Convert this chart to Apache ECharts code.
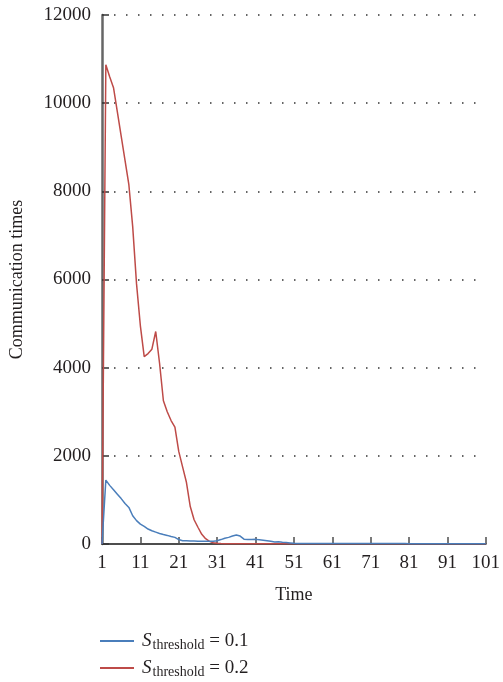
<!DOCTYPE html>
<html>
<head>
<meta charset="utf-8">
<script src="https://cdn.jsdelivr.net/npm/echarts@6/dist/echarts.min.js"></script>
<style>
  html, body { margin: 0; padding: 0; background: #fff; }
  #chart { width: 503px; height: 682px; }
</style>
</head>
<body>
<div id="chart"></div>
<script>
// Time steps 1..101 shown on the horizontal axis
const timeSteps = Array.from({ length: 101 }, (_, i) => String(i + 1));

// Communication times for S_threshold = 0.1
const commLow = [
  0, 1450, 1330, 1230, 1130, 1030, 920, 830, 640, 530,
  450, 400, 340, 300, 270, 240, 215, 195, 170, 150,
  100, 75, 75, 70, 70, 65, 65, 60, 60, 65,
  75, 100, 130, 150, 180, 205, 180, 110, 100, 100,
  105, 95, 85, 75, 60, 45, 50, 40, 35, 25,
  15, 12, 10, 10, 10, 10, 10, 10, 10, 10,
  10, 10, 10, 10, 10, 10, 10, 10, 10, 10,
  10, 10, 10, 10, 10, 10, 10, 10, 10, 10,
  5, 5, 5, 5, 5, 5, 5, 5, 5, 5,
  5, 5, 5, 5, 5, 5, 5, 5, 5, 5,
  5
];

// Communication times for S_threshold = 0.2
const commHigh = [
  0, 10870, 10600, 10350, 9800, 9250, 8700, 8150, 7200, 5900,
  4950, 4250, 4320, 4420, 4820, 4100, 3250, 3000, 2800, 2650,
  2100, 1750, 1400, 850, 550, 380, 220, 120, 60, 30,
  15, 10, 8, 5, 5, 5, 5, 5, 5, 5,
  5, 5, 5, 5, 5, 5, 5, 5, 5, 5,
  5, 5, 5, 5, 5, 5, 5, 5, 5, 5,
  5, 5, 5, 5, 5, 5, 5, 5, 5, 5,
  5, 5, 5, 5, 5, 5, 5, 5, 5, 5,
  5, 5, 5, 5, 5, 5, 5, 5, 5, 5,
  5, 5, 5, 5, 5, 5, 5, 5, 5, 5,
  5
];

const thresholds = ['0.1', '0.2'];
const seriesNames = thresholds.map(t => 'S threshold = ' + t);
const lineColors = ['#4a7ebb', '#be4b48'];

const serif = '"Liberation Serif", "DejaVu Serif", serif';
const textColor = '#231f20';

// one legend block per entry so the entries stack vertically
const legendRich = {
  s: { fontFamily: serif, fontStyle: 'italic', fontSize: 19, color: textColor, lineHeight: 22, verticalAlign: 'middle', padding: [0, 0, 0, 3] },
  sub: { fontFamily: serif, fontSize: 14, color: textColor, lineHeight: 22, verticalAlign: 'bottom', padding: [10, 0, 0, 1] },
  n: { fontFamily: serif, fontSize: 19, color: textColor, lineHeight: 22, verticalAlign: 'middle' }
};
const legends = seriesNames.map((name, i) => ({
  left: 95,
  top: 623 + i * 27,
  itemWidth: 34,
  itemHeight: 2,
  itemGap: 8,
  icon: 'rect',
  data: [name],
  formatter: function (n) {
    return '{s|S}{sub|threshold}{n| = ' + n.split('= ')[1] + '}';
  },
  textStyle: { fontFamily: serif, color: textColor, rich: legendRich }
}));

const chart = echarts.init(document.getElementById('chart'));
chart.setOption({
  animation: false,
  backgroundColor: '#fff',
  grid: { left: 100, right: 12, top: 15, bottom: 138, containLabel: false },
  xAxis: {
    type: 'category',
    data: timeSteps,
    boundaryGap: false,
    name: 'Time',
    nameLocation: 'middle',
    nameGap: 42,
    nameTextStyle: { fontFamily: serif, fontSize: 18, color: textColor },
    axisLine: { lineStyle: { color: '#4d4d4d', width: 2 } },
    axisTick: { inside: true, length: 7, interval: 9, lineStyle: { color: '#4d4d4d', width: 1.5 } },
    axisLabel: { interval: 9, margin: 10, fontFamily: serif, fontSize: 19, color: textColor },
    splitLine: { show: false }
  },
  yAxis: {
    type: 'value',
    min: 0,
    max: 12000,
    interval: 2000,
    name: 'Communication times',
    nameLocation: 'middle',
    nameGap: 76,
    nameTextStyle: { fontFamily: serif, fontSize: 18, color: textColor },
    axisLine: { show: true, lineStyle: { color: '#666', width: 2.5 } },
    axisTick: { show: true, inside: true, length: 7, lineStyle: { color: '#333', width: 1.5 } },
    axisLabel: { margin: 11, fontFamily: serif, fontSize: 19, color: textColor, formatter: v => String(v) },
    splitLine: { show: true, lineStyle: { color: '#333', width: 1.5, type: [1.5, 10.5] } }
  },
  legend: legends,
  series: seriesNames.map((name, i) => ({
    name: name,
    type: 'line',
    data: i === 0 ? commLow : commHigh,
    symbol: 'none',
    itemStyle: { color: lineColors[i] },
    lineStyle: { color: lineColors[i], width: 1.5 },
    z: 3 - i
  }))
});
</script>
</body>
</html>
